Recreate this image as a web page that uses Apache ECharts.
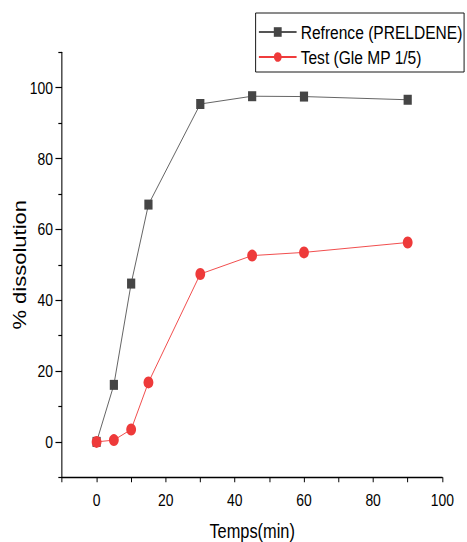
<!DOCTYPE html>
<html>
<head>
<meta charset="utf-8">
<script src="https://cdn.jsdelivr.net/npm/echarts@6/dist/echarts.min.js"></script>
<style>
html,body{margin:0;padding:0;background:#fff;overflow:hidden;}
#c{width:570px;height:542px;transform:scaleX(0.8193);transform-origin:0 0;}
</style>
</head>
<body>
<div id="c"></div>
<script>
var times = [0, 5, 10, 15, 30, 45, 60, 90];
var refValues = [0, 16.1, 44.7, 67.0, 95.4, 97.6, 97.5, 96.6];
var testValues = [0, 0.5, 3.5, 16.8, 47.4, 52.6, 53.5, 56.3];
var refName = 'Refrence (PRELDENE)';
var testName = 'Test (Gle MP 1/5)';
var yLabels = [0, 20, 40, 60, 80, 100];
var yMinorTicks = [-10, 10, 30, 50, 70, 90, 110];
var xLabels = [0, 20, 40, 60, 80, 100];

function pairs(xs, ys) { return xs.map(function (x, i) { return [x, ys[i]]; }); }

var font = 'Liberation Sans, Arial, sans-serif';
var chart = echarts.init(document.getElementById('c'), null, { renderer: 'svg' });
chart.setOption({
  animation: false,
  backgroundColor: '#fff',
  textStyle: { fontFamily: font, color: '#000' },
  grid: { left: 75.7, right: 30.2, top: 52.3, bottom: 64.7, containLabel: false, outerBoundsMode: 'none' },
  legend: {
    left: 312, top: 13, orient: 'vertical',
    padding: [9, 2, 5, 3],
    borderColor: '#000', borderWidth: 1, borderRadius: 0,
    backgroundColor: '#fff',
    itemWidth: 46, itemHeight: 12, itemGap: 5,
    textStyle: { fontSize: 19, lineHeight: 20, color: '#000', fontFamily: font },
    data: [refName, testName]
  },
  xAxis: {
    type: 'value', min: -10, max: 100, interval: 10,
    name: 'Temps(min)', nameLocation: 'middle', nameGap: 44, nameMoveOverlap: false,
    nameTextStyle: { fontSize: 20, color: '#000', fontFamily: font },
    axisLine: { show: true, onZero: false, lineStyle: { color: '#000', width: 1.3 } },
    axisTick: { show: true, inside: false, length: 5, lineStyle: { color: '#000', width: 1.2 } },
    axisLabel: {
      fontSize: 17, color: '#000', margin: 14, fontFamily: font,
      customValues: xLabels
    },
    splitLine: { show: false }
  },
  yAxis: [{
    type: 'value', min: -10, max: 110, interval: 10,
    name: '% dissolution', nameLocation: 'middle', nameGap: 41, nameRotate: 90, nameMoveOverlap: false,
    nameTextStyle: { fontSize: 22, color: '#000', fontFamily: font },
    axisLine: { show: true, onZero: false, lineStyle: { color: '#000', width: 1.3 } },
    axisTick: { show: true, inside: false, length: 8, customValues: yLabels, lineStyle: { color: '#000', width: 1.2 } },
    axisLabel: { fontSize: 17, color: '#000', margin: 11, fontFamily: font, customValues: yLabels },
    splitLine: { show: false }
  }, {
    type: 'value', min: -10, max: 110, interval: 10, position: 'left',
    axisLine: { show: false, onZero: false },
    axisTick: { show: true, inside: false, length: 4.5, customValues: yMinorTicks, lineStyle: { color: '#000', width: 1.2 } },
    axisLabel: { show: false },
    splitLine: { show: false }
  }],
  series: [{
    name: refName, type: 'line', data: pairs(times, refValues),
    symbol: 'rect', symbolSize: 10,
    lineStyle: { color: '#555', width: 1 },
    itemStyle: { color: '#454545' },
    z: 2
  }, {
    name: testName, type: 'line', data: pairs(times, testValues),
    symbol: 'circle', symbolSize: 12,
    lineStyle: { color: '#f03c3c', width: 1 },
    itemStyle: { color: '#ee3a3a' },
    z: 3
  }]
});
</script>
</body>
</html>
